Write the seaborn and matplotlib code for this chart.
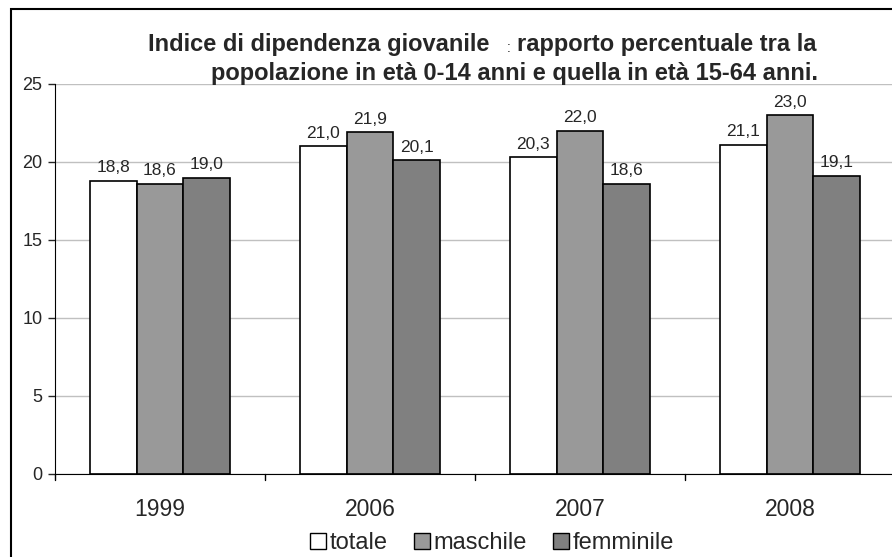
import pandas as pd
import matplotlib.pyplot as plt
import seaborn as sns
from matplotlib.patches import Rectangle
from matplotlib.lines import Line2D

# -----------------------------
# Data
# -----------------------------

anni = ["1999", "2006", "2007", "2008"]
serie = ["totale", "maschile", "femminile"]
totale = [18.8, 21.0, 20.3, 21.1]
maschile = [18.6, 21.9, 22.0, 23.0]
femminile = [19.0, 20.1, 18.6, 19.1]
colori = ["#ffffff", "#999999", "#808080"]

data = pd.DataFrame({
    "anno": anni * 3,
    "serie": [s for s in serie for _ in anni],
    "valore": totale + maschile + femminile,
})

# -----------------------------
# Figure
# -----------------------------

sns.set_style("white")
plt.rcParams["font.family"] = ["Liberation Sans", "DejaVu Sans"]

W, H = 892, 557
fig = plt.figure(figsize=(W / 100, H / 100), dpi=100)
ax = fig.add_axes([55 / W, (H - 474) / H, 840 / W, 390 / H])

sns.barplot(
    data=data, x="anno", y="valore", hue="serie",
    palette=colori, width=0.667, edgecolor="black", linewidth=1.2,
    saturation=1, legend=False, ax=ax, order=anni, hue_order=serie
)

for cont in ax.containers:
    ax.bar_label(
        cont, labels=[f"{b.get_height():.1f}".replace(".", ",") for b in cont],
        padding=4, fontsize=12.5
    )

ax.set_xlim(-0.5, 3.5)
ax.set_ylim(0, 25)
ax.set_yticks([0, 5, 10, 15, 20, 25])
ax.set_xlabel("")
ax.set_ylabel("")
ax.yaxis.grid(True, color="#c0c0c0", linewidth=1)
ax.set_axisbelow(True)
ax.tick_params(axis="y", labelsize=13, length=5, width=1, direction="out", left=True, pad=4)
ax.tick_params(axis="x", labelsize=16.5, length=0, pad=17)
for x in [-0.5, 0.5, 1.5, 2.5]:
    ax.plot([x, x], [0, -0.4], color="black", lw=1, clip_on=False)
for side in ["top", "right"]:
    ax.spines[side].set_visible(False)
ax.spines["left"].set_color("black")
ax.spines["bottom"].set_color("black")

# -----------------------------
# Title
# -----------------------------

fig.text(148 / W, 1 - 51 / H, "Indice di dipendenza giovanile", fontsize=17,
         fontweight="bold", va="baseline", ha="left")
fig.text(507 / W, 1 - 52 / H, ":", fontsize=10, va="baseline", ha="left")
fig.text(517 / W, 1 - 51 / H, "rapporto percentuale tra la", fontsize=17,
         fontweight="bold", va="baseline", ha="left")
fig.text(818 / W, 1 - 80 / H, "popolazione in età 0-14 anni e quella in età 15-64 anni.",
         fontsize=17, fontweight="bold", va="baseline", ha="right")

# -----------------------------
# Legend
# -----------------------------

handles = [
    Line2D([], [], marker="s", linestyle="", markersize=11, markerfacecolor=c,
           markeredgecolor="black", markeredgewidth=1)
    for c in colori
]
fig.legend(handles, serie, loc="center", bbox_to_anchor=(492 / W, 1 - 543 / H),
           ncol=3, frameon=False, fontsize=17, handletextpad=0.15,
           columnspacing=1.1, handlelength=0.7, borderpad=0)

# outer chart border
fig.patches.append(Rectangle((11 / W, -0.1), 1.2, 1 - 9 / H + 0.1,
                             transform=fig.transFigure, fill=False,
                             edgecolor="black", linewidth=1.5))

fig.savefig("out.png", dpi=100)
